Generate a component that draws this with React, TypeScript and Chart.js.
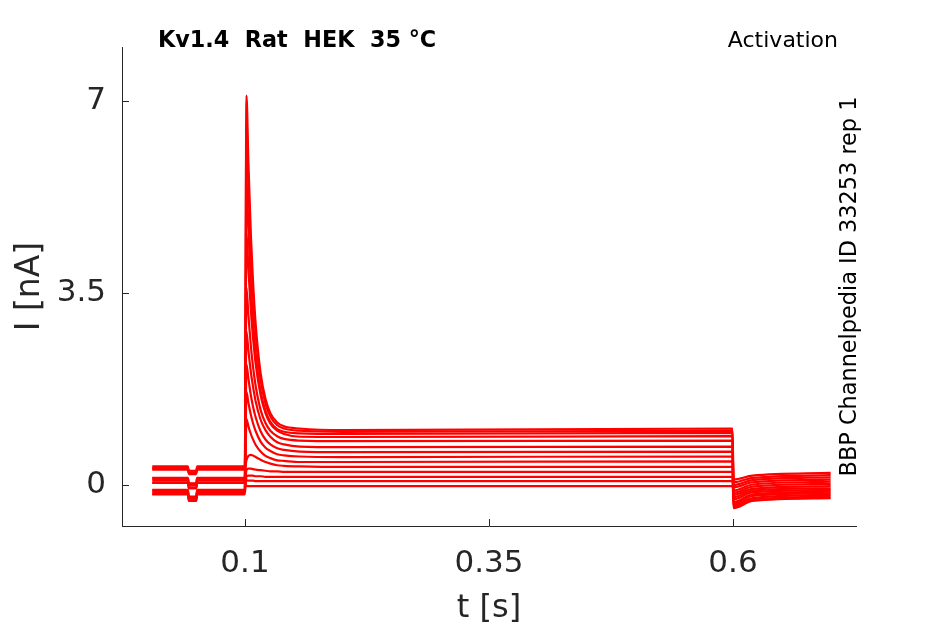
import React, { useEffect, useRef } from 'react';
import Chart from 'chart.js/auto';

// time grid (s) of the sweep segments
const preTimes = [0.005, 0.0415, 0.0425, 0.05, 0.051, 0.0998];
const peakTime = 0.1015;
const decayTimes = [0.1035, 0.106, 0.108, 0.111, 0.116, 0.121, 0.126, 0.133, 0.14, 0.156];
const plateauTimes = [0.2, 0.5995];
const tailTimes = [0.6005, 0.62, 0.7];

// current (nA) of each sweep
const holding = [0.09, 0.31, -0.13, 0.05, -0.1, 0.34, -0.16, 0.12, -0.09, 0.28, 0.04, -0.17, 0.3, 0.13];
const holdingDip = [-0.01, 0.23, -0.25, -0.05, -0.22, 0.26, -0.28, 0.02, -0.21, 0.2, -0.06, -0.29, 0.22, 0.03];
const peaks = [7.1, 6.6, 5.6, 4.6, 3.6, 2.8, 2.2, 1.7, 1.2, 0.45, 0.27, 0.16, 0.08, -0.02];
const decay = [
    [5.88, 4.57, 3.79, 2.92, 2.04, 1.57, 1.31, 1.14, 1.07, 1.03],
    [5.48, 4.26, 3.54, 2.74, 1.92, 1.48, 1.25, 1.09, 1.03, 0.99],
    [4.67, 3.66, 3.06, 2.39, 1.71, 1.35, 1.15, 1.02, 0.97, 0.94],
    [3.93, 3.19, 2.73, 2.2, 1.64, 1.31, 1.12, 0.99, 0.93, 0.88],
    [3.09, 2.54, 2.19, 1.8, 1.37, 1.13, 0.99, 0.89, 0.84, 0.81],
    [2.45, 2.06, 1.82, 1.52, 1.19, 1.0, 0.88, 0.78, 0.74, 0.7],
    [1.94, 1.64, 1.45, 1.23, 0.98, 0.83, 0.74, 0.67, 0.64, 0.61],
    [1.5, 1.28, 1.14, 0.98, 0.79, 0.68, 0.62, 0.56, 0.54, 0.52],
    [1.07, 0.93, 0.84, 0.73, 0.61, 0.53, 0.49, 0.45, 0.44, 0.42],
    [0.53, 0.55, 0.54, 0.51, 0.46, 0.42, 0.39, 0.36, 0.35, 0.34],
    [0.3, 0.3, 0.29, 0.28, 0.27, 0.26, 0.25, 0.25, 0.24, 0.24],
    [0.17, 0.17, 0.17, 0.16, 0.16, 0.15, 0.15, 0.15, 0.15, 0.15],
    [0.08, 0.08, 0.08, 0.07, 0.07, 0.07, 0.07, 0.07, 0.07, 0.07],
    [-0.02, -0.02, -0.02, -0.02, -0.02, -0.02, -0.02, -0.02, -0.02, -0.02],
];
const plateauStart = [1.0, 0.97, 0.93, 0.875, 0.8, 0.69, 0.6, 0.51, 0.42, 0.33, 0.24, 0.15, 0.07, -0.02];
const plateauEnd = [1.03, 0.99, 0.95, 0.89, 0.81, 0.7, 0.61, 0.52, 0.43, 0.33, 0.24, 0.15, 0.07, -0.02];
const tailStart = [-0.18, 0.1, -0.37, -0.22, -0.34, 0.05, -0.4, -0.14, -0.31, 0.0, -0.26, -0.42, -0.04, -0.1];
const tailMid = [-0.07, 0.17, -0.24, -0.1, -0.2, 0.13, -0.27, -0.03, -0.17, 0.09, -0.13, -0.29, 0.05, 0.01];
const tailEnd = [-0.02, 0.22, -0.18, -0.06, -0.15, 0.18, -0.21, 0.02, -0.12, 0.14, -0.09, -0.24, 0.1, 0.06];

const xTicks = [0.1, 0.35, 0.6];
const yTicks = [0, 3.5, 7];

const FONT = '"DejaVu Sans", sans-serif';
const AXIS = '#262626';

function sweep(i: number) {
    const pre = [holding[i], holding[i], holdingDip[i], holdingDip[i], holding[i], holding[i]];
    const pts = preTimes.map((t, k) => ({ x: t, y: pre[k] }));
    pts.push({ x: peakTime, y: peaks[i] });
    decayTimes.forEach((t, k) => pts.push({ x: t, y: decay[i][k] }));
    pts.push({ x: plateauTimes[0], y: plateauStart[i] });
    pts.push({ x: plateauTimes[1], y: plateauEnd[i] });
    const tail = [tailStart[i], tailMid[i], tailEnd[i]];
    tailTimes.forEach((t, k) => pts.push({ x: t, y: tail[k] }));
    return pts;
}

// inward tick marks plus the free-floating texts
const decorations = {
    id: 'decorations',
    afterDraw(chart: any) {
        const { ctx, chartArea, scales } = chart;
        ctx.save();
        ctx.strokeStyle = AXIS;
        ctx.lineWidth = 1;
        ctx.beginPath();
        xTicks.forEach((v) => {
            const px = Math.round(scales.x.getPixelForValue(v)) + 0.5;
            ctx.moveTo(px, chartArea.bottom);
            ctx.lineTo(px, chartArea.bottom - 7);
        });
        yTicks.forEach((v) => {
            const py = Math.round(scales.y.getPixelForValue(v)) + 0.5;
            ctx.moveTo(chartArea.left, py);
            ctx.lineTo(chartArea.left + 7, py);
        });
        ctx.stroke();

        ctx.fillStyle = '#000';
        ctx.textBaseline = 'alphabetic';
        ctx.font = 'bold 22.3px ' + FONT;
        ctx.textAlign = 'left';
        ctx.fillText('Kv1.4  Rat  HEK  35 °C', chartArea.left + 36, chartArea.top);
        ctx.font = '22px ' + FONT;
        ctx.textAlign = 'right';
        ctx.fillText('Activation', chartArea.right - 18, chartArea.top);

        ctx.translate(chartArea.right - 6, (chartArea.top + chartArea.bottom) / 2);
        ctx.rotate(-Math.PI / 2);
        ctx.textAlign = 'center';
        ctx.textBaseline = 'middle';
        ctx.font = '22.4px ' + FONT;
        ctx.fillText('BBP Channelpedia ID 33253 rep 1', 0, 0);
        ctx.restore();
    },
};

const App: React.FC = () => {
    const canvasRef = useRef<HTMLCanvasElement>(null);
    const chartInstance = useRef<Chart>();

    useEffect(() => {
        document.body.style.margin = '0';
        if (canvasRef.current) {
            const ctx = canvasRef.current.getContext('2d');
            if (ctx) {
                if (chartInstance.current) {
                    chartInstance.current.destroy();
                }
                chartInstance.current = new Chart(ctx, {
                    type: 'line',
                    data: {
                        datasets: peaks.map((_, i) => ({
                            data: sweep(i),
                            borderColor: '#ff0000',
                            borderWidth: 2.2,
                            pointRadius: 0,
                            fill: false,
                            cubicInterpolationMode: 'monotone' as const,
                        })),
                    },
                    options: {
                        animation: false,
                        responsive: false,
                        layout: { padding: { top: 47, right: 89, left: 0, bottom: 0 } },
                        plugins: {
                            legend: { display: false },
                            tooltip: { enabled: false },
                        },
                        scales: {
                            x: {
                                type: 'linear',
                                min: -0.026,
                                max: 0.726,
                                afterFit: (scale: any) => { scale.height = 98; },
                                afterBuildTicks: (scale: any) => { scale.ticks = xTicks.map((v) => ({ value: v })); },
                                grid: { display: false, drawTicks: false },
                                border: { display: true, color: AXIS, width: 1 },
                                ticks: {
                                    color: AXIS,
                                    padding: 19,
                                    font: { family: FONT, size: 31 },
                                    callback: (v: any) => String(v),
                                },
                                title: {
                                    display: true,
                                    text: 't [s]',
                                    color: AXIS,
                                    font: { family: FONT, size: 32 },
                                    padding: { top: 0, bottom: -4 },
                                },
                            },
                            y: {
                                type: 'linear',
                                min: -0.747,
                                max: 7.984,
                                afterFit: (scale: any) => { scale.width = 122; },
                                afterBuildTicks: (scale: any) => { scale.ticks = yTicks.map((v) => ({ value: v })); },
                                grid: { display: false, drawTicks: false },
                                border: { display: true, color: AXIS, width: 1 },
                                ticks: {
                                    color: AXIS,
                                    padding: 16,
                                    font: { family: FONT, size: 31 },
                                    callback: (v: any) => String(v),
                                },
                                title: {
                                    display: true,
                                    text: 'I [nA]',
                                    color: AXIS,
                                    font: { family: FONT, size: 33 },
                                    padding: { top: 11, bottom: 0 },
                                },
                            },
                        },
                    },
                    plugins: [decorations],
                });
            }
        }
        return () => {
            if (chartInstance.current) {
                chartInstance.current.destroy();
                chartInstance.current = undefined;
            }
        };
    }, []);

    return (
        <div style={{ width: 945, height: 624 }}>
            <canvas ref={canvasRef} width={945} height={624} style={{ display: 'block' }}></canvas>
        </div>
    );
};

export default App;
